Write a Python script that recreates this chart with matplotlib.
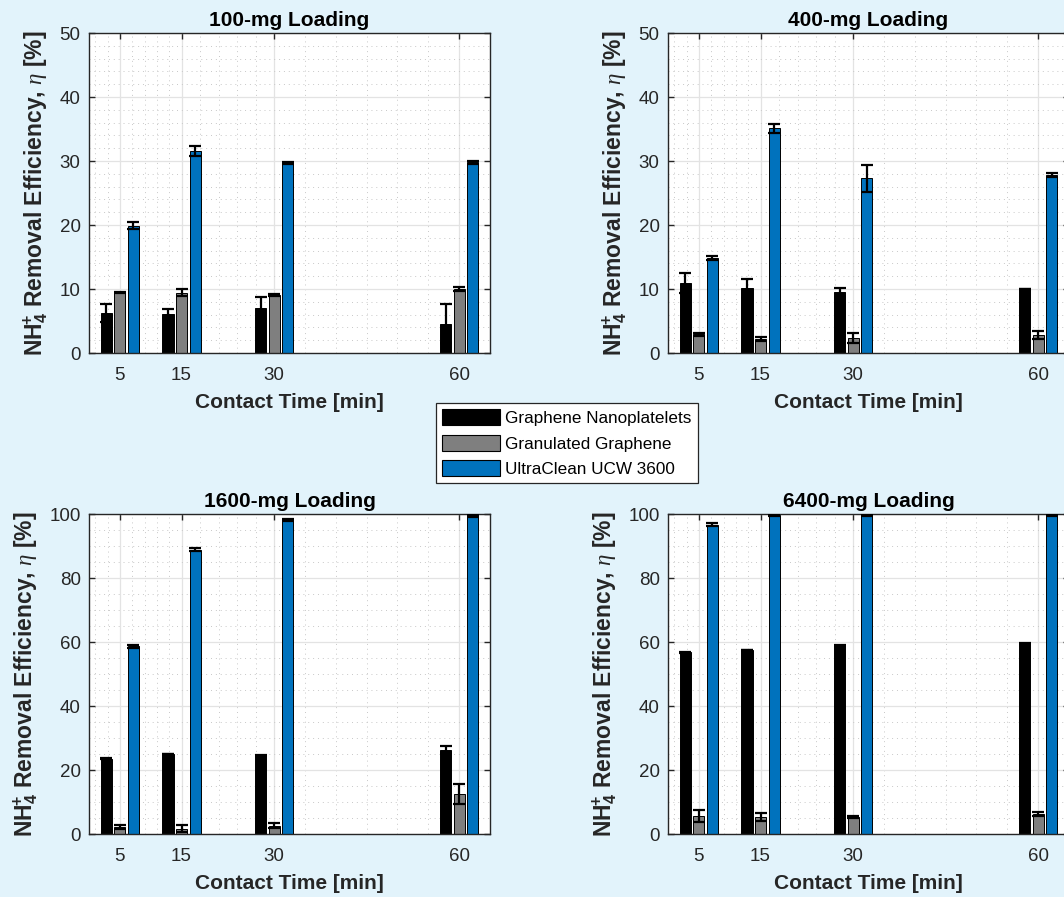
import matplotlib
matplotlib.use("Agg")
import matplotlib.pyplot as plt
from matplotlib.patches import Patch
import numpy as np

plt.rcParams['font.family'] = ['Liberation Sans', 'DejaVu Sans']
plt.rcParams['mathtext.fontset'] = 'custom'
plt.rcParams['mathtext.rm'] = 'Liberation Sans:bold'
plt.rcParams['mathtext.bf'] = 'Liberation Sans:bold'
plt.rcParams['mathtext.it'] = 'Liberation Serif:italic'

# contact times [min]
times = [5, 15, 30, 60]
loadings = ['100-mg Loading', '400-mg Loading', '1600-mg Loading', '6400-mg Loading']
materials = ['Graphene Nanoplatelets', 'Granulated Graphene', 'UltraClean UCW 3600']

# removal efficiency [%] and error, one list per loading
gnp_100 = [6.2, 6.1, 7.0, 4.6]
gnp_100_err = [1.4, 0.7, 1.75, 3.0]
gg_100 = [9.4, 9.4, 9.05, 10.0]
gg_100_err = [0.1, 0.55, 0.1, 0.3]
ucw_100 = [19.9, 31.6, 29.75, 29.8]
ucw_100_err = [0.6, 0.8, 0.15, 0.2]

gnp_400 = [10.9, 10.1, 9.5, 10.0]
gnp_400_err = [1.6, 1.5, 0.7, 0.05]
gg_400 = [2.9, 2.2, 2.35, 2.8]
gg_400_err = [0.3, 0.25, 0.8, 0.6]
ucw_400 = [14.85, 35.1, 27.3, 27.8]
ucw_400_err = [0.25, 0.7, 2.1, 0.25]

gnp_1600 = [23.5, 25.0, 24.5, 26.4]
gnp_1600_err = [0.15, 0.15, 0.15, 1.2]
gg_1600 = [2.2, 1.7, 2.6, 12.5]
gg_1600_err = [0.75, 1.0, 0.7, 3.1]
ucw_1600 = [58.7, 88.8, 98.1, 99.3]
ucw_1600_err = [0.5, 0.5, 0.3, 0.25]

gnp_6400 = [56.8, 57.5, 59.0, 59.6]
gnp_6400_err = [0.1, 0.1, 0.1, 0.1]
gg_6400 = [5.6, 5.3, 5.3, 6.2]
gg_6400_err = [2.0, 1.15, 0.4, 0.6]
ucw_6400 = [96.6, 99.6, 99.6, 99.6]
ucw_6400_err = [0.5, 0.3, 0.3, 0.3]

panels = [
    (gnp_100, gnp_100_err, gg_100, gg_100_err, ucw_100, ucw_100_err, 50),
    (gnp_400, gnp_400_err, gg_400, gg_400_err, ucw_400, ucw_400_err, 50),
    (gnp_1600, gnp_1600_err, gg_1600, gg_1600_err, ucw_1600, ucw_1600_err, 100),
    (gnp_6400, gnp_6400_err, gg_6400, gg_6400_err, ucw_6400, ucw_6400_err, 100),
]

colors = ['black', '#7f7f7f', '#0072BD']
bg = '#E2F3FB'
txt = '#262626'

fig = plt.figure(figsize=(10.64, 8.97), dpi=100, facecolor=bg)

W, H = 1064, 897
boxes = [(89, 33), (668, 33), (89, 514), (668, 514)]
aw, ah = 401, 320

x = np.array(times, dtype=float)
offset = 2.2
bw = 1.8

for i, (lx, ty) in enumerate(boxes):
    ax = fig.add_axes([lx / W, 1 - (ty + ah) / H, aw / W, ah / H])
    gnp, gnp_e, gg, gg_e, ucw, ucw_e, ymax = panels[i]
    for vals, errs, dx, c in [(gnp, gnp_e, -offset, colors[0]),
                              (gg, gg_e, 0, colors[1]),
                              (ucw, ucw_e, offset, colors[2])]:
        ax.bar(x + dx, vals, width=bw, color=c, edgecolor='black', linewidth=0.7, zorder=2)
        ax.errorbar(x + dx, vals, yerr=errs, fmt='none', ecolor='black',
                    elinewidth=1.6, capsize=4.2, capthick=1.6, zorder=3)

    ax.set_xlim(0, 65)
    ax.set_ylim(0, ymax)
    ax.set_xticks(times)
    ax.set_xticks([1, 3, 7, 9, 11, 13, 18, 21, 24, 27, 35, 40, 45, 50, 55], minor=True)
    if ymax == 50:
        ax.set_yticks(np.arange(0, 51, 10))
        ax.set_yticks(np.arange(0, 51, 2), minor=True)
    else:
        ax.set_yticks(np.arange(0, 101, 20))
        ax.set_yticks(np.arange(0, 101, 5), minor=True)

    ax.set_facecolor('white')
    ax.set_axisbelow(True)
    ax.grid(True, which='major', color='#e3e3e3', linewidth=0.9)
    ax.grid(True, which='minor', color='#c8c8c8', linestyle=(0, (1, 4)), linewidth=0.7)
    ax.tick_params(which='major', direction='in', length=4, width=1, top=True, right=True,
                   colors=txt, labelsize=13.5)
    ax.tick_params(axis='x', pad=10)
    ax.tick_params(axis='y', pad=6)
    ax.tick_params(which='minor', length=0)
    for s in ax.spines.values():
        s.set_color(txt)
        s.set_linewidth(1)

    ax.set_title(loadings[i], fontsize=15, fontweight='bold', color='black', pad=5)
    ax.set_xlabel('Contact Time [min]', fontsize=15, fontweight='bold', color=txt)
    ax.xaxis.set_label_coords(0.5, -0.125)
    ax.set_ylabel(r'NH$_{4}^{\!\mathbf{+}}$ Removal Efficiency, $\eta$ [%]', fontsize=16.5,
                  fontweight='bold', color=txt, labelpad=7)

handles = [Patch(facecolor=c, edgecolor='black', linewidth=0.8) for c in colors]
leg = fig.legend(handles, materials, loc='upper left', bbox_to_anchor=(436 / W, 1 - 403 / H),
                 fontsize=12.3, handlelength=3.4, handleheight=1.1, labelspacing=0.5,
                 handletextpad=0.3, borderpad=0.35, borderaxespad=0, fancybox=False,
                 framealpha=1, edgecolor=txt)
leg.get_frame().set_linewidth(0.9)

fig.savefig('out.png', dpi=100, facecolor=bg)
